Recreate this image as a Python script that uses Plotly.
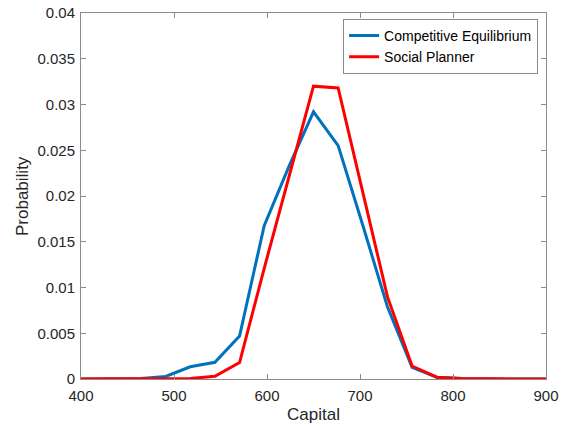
import plotly.graph_objects as go

capital = [385.0, 411.5, 438.0, 464.5, 491.0, 517.5, 544.0, 570.5, 597.0, 623.5,
           650.0, 676.5, 703.0, 729.5, 756.0, 782.5, 809.0, 835.5, 862.0, 888.5, 915.0]
competitive = [0.0, 0.0, 0.0, 0.00005, 0.00028, 0.00134, 0.00183, 0.0047, 0.01675, 0.0232,
               0.0292, 0.0255, 0.0168, 0.0079, 0.00128, 0.0002, 0.00005, 0.0, 0.0, 0.0, 0.0]
planner = [0.0, 0.0, 0.0, 0.0, 0.0, 0.00005, 0.0003, 0.0018, 0.0121, 0.0222,
           0.0320, 0.0318, 0.0205, 0.0090, 0.00142, 0.0002, 0.00005, 0.0, 0.0, 0.0, 0.0]

x_ticks = [400, 500, 600, 700, 800, 900]
y_ticks = [0, 0.005, 0.01, 0.015, 0.02, 0.025, 0.03, 0.035, 0.04]
y_tick_text = ["0", "0.005", "0.01", "0.015", "0.02", "0.025", "0.03", "0.035", "0.04"]

fig = go.Figure()
fig.add_trace(go.Scatter(x=capital, y=competitive, mode="lines", name="Competitive Equilibrium",
                         line=dict(color="#0072BD", width=3)))
fig.add_trace(go.Scatter(x=capital, y=planner, mode="lines", name="Social Planner",
                         line=dict(color="#FF0000", width=3)))

axis_common = dict(showgrid=False, zeroline=False, showline=True, mirror="ticks",
                   linecolor="#8c8c8c", linewidth=1, ticks="inside", ticklen=5,
                   tickcolor="#8c8c8c", tickfont=dict(size=15, color="#262626"),
                   automargin=False)

fig.update_xaxes(range=[400, 900], tickvals=x_ticks, ticklabelstandoff=3, **axis_common)
fig.update_yaxes(range=[0, 0.04], tickvals=y_ticks, ticktext=y_tick_text,
                 ticklabelstandoff=2, **axis_common)

fig.add_annotation(text="Capital", xref="paper", yref="paper", x=0.5, y=0,
                   xanchor="center", yanchor="middle", yshift=-35, showarrow=False,
                   font=dict(size=17, color="#262626"))
fig.add_annotation(text="Probability", xref="paper", yref="paper", x=0, y=0.5,
                   xanchor="center", yanchor="middle", xshift=-59, textangle=-90,
                   showarrow=False, font=dict(size=17, color="#262626"))

fig.update_layout(
    width=564, height=428,
    margin=dict(l=81, r=18, t=13, b=49, autoexpand=False),
    plot_bgcolor="white", paper_bgcolor="white",
    font=dict(family="Liberation Sans, Arial, sans-serif", color="#262626"),
    legend=dict(x=0.983, y=0.984, xanchor="right", yanchor="top",
                bgcolor="white", bordercolor="#8c8c8c", borderwidth=1,
                font=dict(size=14, color="#000000"), tracegroupgap=0,
                itemwidth=30),
    showlegend=True,
)

fig.write_html("out.html")
